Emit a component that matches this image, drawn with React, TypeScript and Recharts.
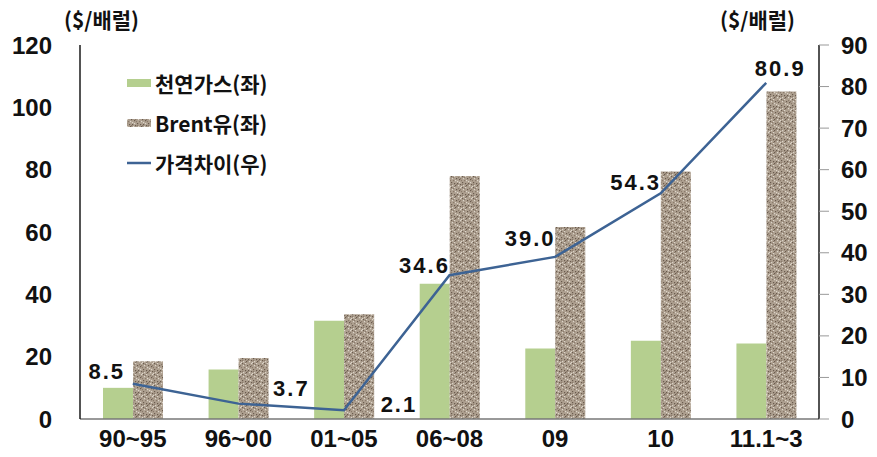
import {
  Bar,
  ComposedChart,
  LabelList,
  Legend,
  Line,
  XAxis,
  YAxis,
} from "recharts";

const PERIODS = ["90~95", "96~00", "01~05", "06~08", "09", "10", "11.1~3"];
const GAS = [10.0, 15.9, 31.5, 43.4, 22.6, 25.1, 24.2];
const BRENT = [18.5, 19.6, 33.6, 78.0, 61.6, 79.4, 105.1];
const GAP = [8.5, 3.7, 2.1, 34.6, 39.0, 54.3, 80.9];
const LEFT_TICKS = [0, 20, 40, 60, 80, 100, 120];
const RIGHT_TICKS = [0, 10, 20, 30, 40, 50, 60, 70, 80, 90];

const GAS_FILL = "#b5cf8f";
const LINE_BLUE = "#3d6394";
const FRAME = "#1a1a1a";
const NUM_FONT = "'Liberation Sans', Arial, sans-serif";
const KR_FONT = "'Noto Sans CJK KR', 'Liberation Sans', sans-serif";

// where each gap label sits relative to its point (centre of text)
const LABEL_SHIFT: [number, number][] = [
  [-26, -12],
  [53, -15],
  [55, -6],
  [-25, -10],
  [-25, -18],
  [-25, -11],
  [14, -14],
];

const data = PERIODS.map((p, i) => ({
  period: p,
  gas: GAS[i],
  brent: BRENT[i],
  gap: GAP[i],
}));

// speckled stone texture used for the Brent bars (11px tile)
const DARK = "#6a5b4e";
const MID = "#8a7a6b";
const LIGHT = "#ddd5ca";
const SPECKS: [number, number, string][] = [
  [0, 0, DARK], [3, 0, LIGHT], [7, 1, MID], [9, 0, LIGHT], [1, 2, LIGHT],
  [5, 2, DARK], [8, 3, DARK], [2, 4, MID], [4, 4, LIGHT], [10, 4, MID],
  [0, 6, DARK], [6, 5, LIGHT], [3, 7, DARK], [8, 6, LIGHT], [5, 8, MID],
  [1, 9, LIGHT], [9, 8, DARK], [7, 9, LIGHT], [3, 10, MID], [10, 10, LIGHT],
  [6, 7, DARK], [2, 1, MID], [9, 2, MID], [4, 9, DARK], [0, 8, MID],
];

function Texture() {
  return (
    <svg width={0} height={0} style={{ position: "absolute" }}>
      <defs>
        <pattern id="brentTex" width={11} height={11} patternUnits="userSpaceOnUse">
          <rect width={11} height={11} fill="#ad9f8f" />
          {SPECKS.map(([x, y, c], i) => (
            <rect key={i} x={x} y={y} width={1.2} height={1.2} fill={c} />
          ))}
        </pattern>
      </defs>
    </svg>
  );
}

function GapLabel(props: any) {
  const { x, y, value, index } = props;
  const [dx, dy] = LABEL_SHIFT[index] ?? [0, -12];
  return (
    <text
      x={x + dx}
      y={y + dy}
      textAnchor="middle"
      dominantBaseline="central"
      fontFamily={NUM_FONT}
      fontWeight={700}
      fontSize={22}
      letterSpacing={2}
      fill="#111"
    >
      {Number(value).toFixed(1)}
    </text>
  );
}

function LegendBox() {
  const rows = [
    { label: "천연가스(좌)", kind: "gas" },
    { label: "Brent유(좌)", kind: "brent" },
    { label: "가격차이(우)", kind: "line" },
  ];
  return (
    <div style={{ fontFamily: KR_FONT, fontWeight: 700, fontSize: 21, color: "#111" }}>
      {rows.map((r) => (
        <div
          key={r.kind}
          style={{ display: "flex", alignItems: "center", height: 40, lineHeight: "40px" }}
        >
          <svg width={26} height={12} style={{ marginRight: 3 }}>
            {r.kind === "line" ? (
              <line x1={1} x2={25} y1={6} y2={6} stroke={LINE_BLUE} strokeWidth={2.5} />
            ) : (
              <rect
                x={1}
                y={2}
                width={24}
                height={8}
                fill={r.kind === "gas" ? GAS_FILL : "url(#brentTex)"}
              />
            )}
          </svg>
          <span>{r.label}</span>
        </div>
      ))}
    </div>
  );
}

const tickStyle = {
  fontFamily: NUM_FONT,
  fontWeight: 700,
  fontSize: 24,
  fill: "#111",
};

const unitStyle = {
  position: "absolute" as const,
  top: 4,
  fontFamily: KR_FONT,
  fontWeight: 700,
  fontSize: 21,
  color: "#111",
};

export default function App() {
  return (
    <div style={{ position: "absolute", left: 0, top: 0, width: 877, height: 457, background: "#fff" }}>
      <Texture />
      <div style={{ ...unitStyle, left: 64 }}>($/배럴)</div>
      <div style={{ ...unitStyle, left: 720 }}>($/배럴)</div>
      <ComposedChart
        width={877}
        height={457}
        data={data}
        margin={{ top: 45, right: 0, bottom: 0, left: 0 }}
        barGap={0}
        barSize={30}
        style={{ position: "absolute", left: 0, top: 0 }}
      >
        <XAxis
          dataKey="period"
          height={38}
          axisLine={{ stroke: "#777", strokeWidth: 1.5 }}
          tickLine={false}
          tick={tickStyle}
          tickMargin={5}
          interval={0}
        />
        <XAxis
          xAxisId="top"
          dataKey="period"
          orientation="top"
          height={0}
          tick={false}
          tickLine={false}
          axisLine={{ stroke: FRAME, strokeWidth: 1.5 }}
        />
        <YAxis
          yAxisId="left"
          width={80}
          domain={[0, 120]}
          ticks={LEFT_TICKS}
          interval={0}
          axisLine={{ stroke: FRAME, strokeWidth: 1.5 }}
          tickLine={false}
          tick={tickStyle}
          tickMargin={22}
        />
        <YAxis
          yAxisId="right"
          orientation="right"
          width={58}
          domain={[0, 90]}
          ticks={RIGHT_TICKS}
          interval={0}
          axisLine={{ stroke: FRAME, strokeWidth: 1.5 }}
          tickLine={{ stroke: "#999" }}
          tickSize={10}
          tickMargin={12}
          tick={tickStyle}
        />
        <Legend
          layout="vertical"
          align="center"
          verticalAlign="middle"
          content={() => <LegendBox />}
          wrapperStyle={{ left: 126, top: 63, width: 200 }}
        />
        <Bar yAxisId="left" dataKey="gas" fill={GAS_FILL} isAnimationActive={false} />
        <Bar yAxisId="left" dataKey="brent" fill="url(#brentTex)" isAnimationActive={false} />
        <Line
          yAxisId="right"
          dataKey="gap"
          type="linear"
          stroke={LINE_BLUE}
          strokeWidth={2.5}
          dot={false}
          isAnimationActive={false}
        >
          <LabelList dataKey="gap" content={GapLabel} />
        </Line>
      </ComposedChart>
    </div>
  );
}
